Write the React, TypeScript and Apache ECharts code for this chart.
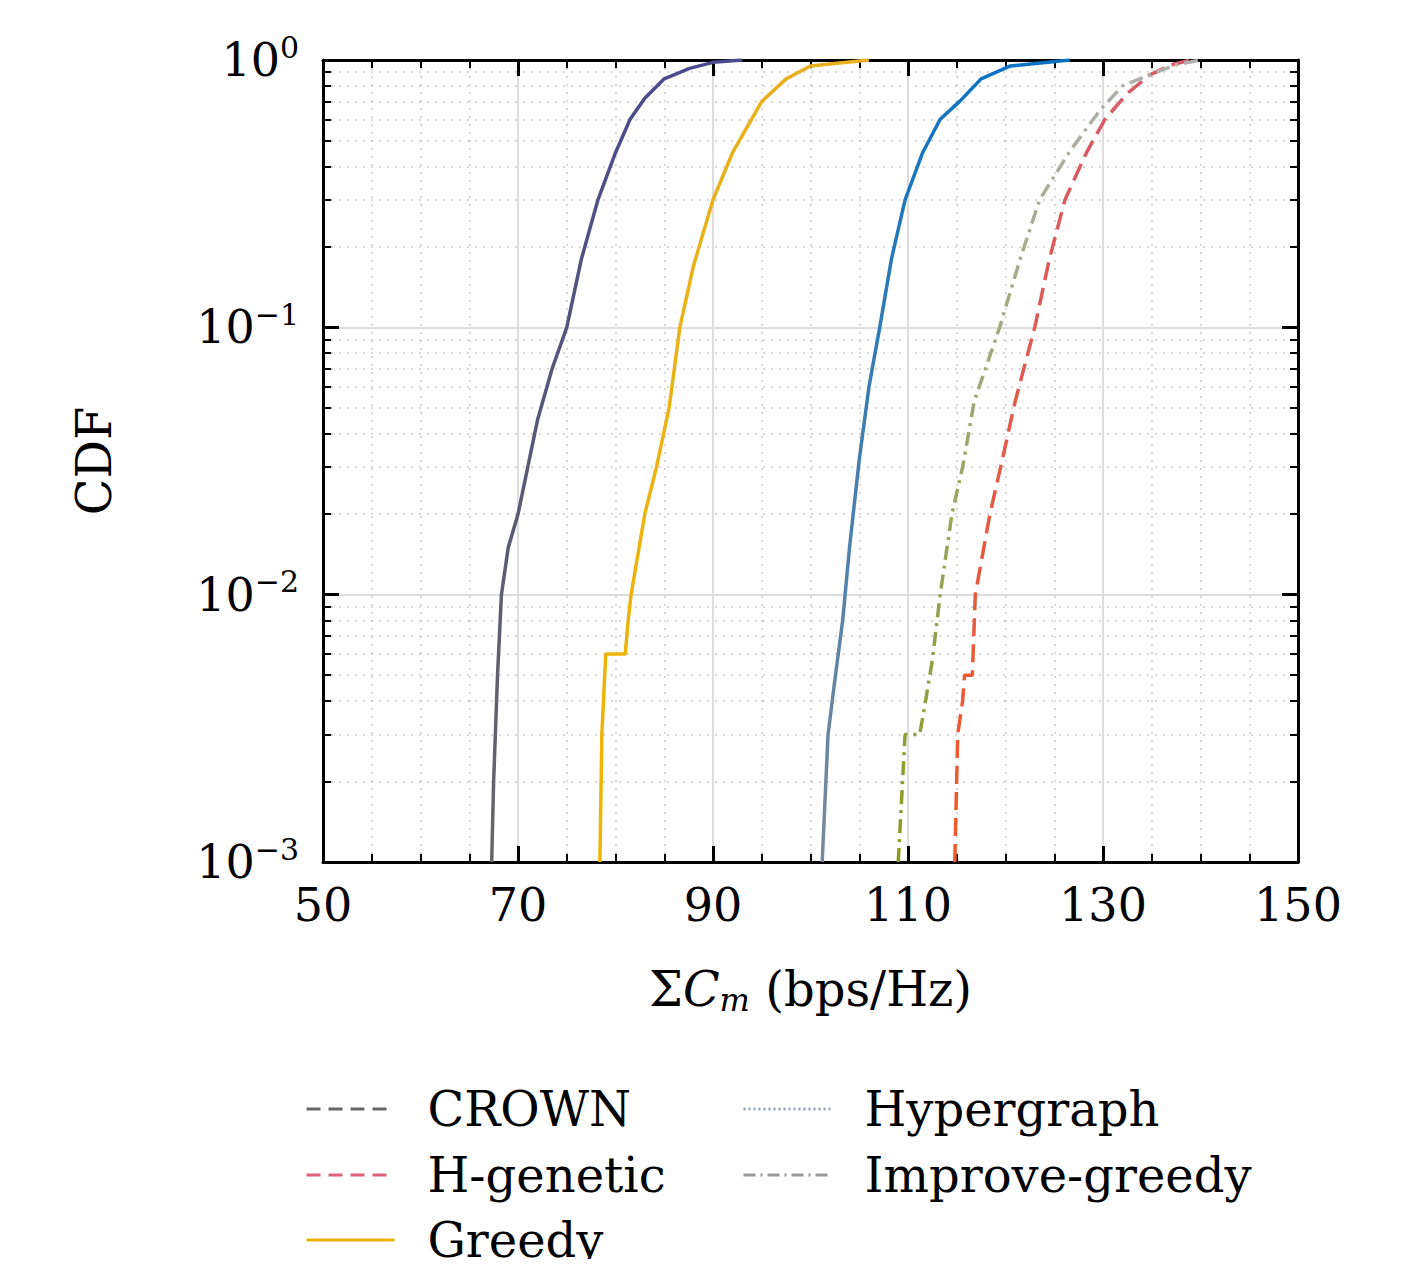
import React, { useEffect, useRef } from 'react';
import * as echarts from 'echarts';

const seriesNames = ['CROWN', 'H-genetic', 'Greedy', 'Hypergraph', 'Improve-greedy'];

const crown = [[67.3,0.001],[67.5,0.002],[67.9,0.005],[68.3,0.01],[69,0.015],[70,0.02],[71,0.03],[72,0.045],[73.5,0.07],[75,0.1],[76.5,0.18],[78.2,0.3],[80,0.45],[81.5,0.6],[83,0.72],[85,0.85],[87.6,0.93],[90,0.98],[93,1]];
const hGenetic = [[114.8,0.001],[115.1,0.003],[115.6,0.004],[115.8,0.005],[116.6,0.005],[116.9,0.01],[118.4,0.02],[119.5,0.03],[121,0.053],[123,0.1],[124.5,0.18],[126.1,0.3],[128.3,0.45],[130.2,0.6],[132.5,0.75],[134.8,0.88],[137,0.96],[139,1]];
const greedy = [[78.4,0.001],[78.6,0.003],[79,0.006],[81,0.006],[81.3,0.008],[81.6,0.01],[83,0.02],[84.2,0.03],[85.5,0.05],[86.6,0.1],[88,0.17],[90,0.3],[92,0.45],[95,0.7],[97.5,0.85],[100,0.95],[106,1]];
const hypergraph = [[101.2,0.001],[101.8,0.003],[102.5,0.0048],[103.3,0.008],[104,0.015],[105,0.032],[106,0.06],[107.1,0.1],[108.3,0.18],[109.7,0.3],[111.5,0.45],[113.3,0.6],[115.3,0.7],[117.5,0.85],[120.5,0.95],[126.6,1]];
const improveGreedy = [[109,0.001],[109.7,0.003],[111.2,0.003],[111.8,0.004],[112.5,0.0057],[113.3,0.01],[114.5,0.02],[115.6,0.03],[116.8,0.053],[119.4,0.1],[121.5,0.18],[123.5,0.3],[126.5,0.45],[129.7,0.65],[132,0.8],[134.8,0.88],[137.5,0.96],[140,1]];

const xTicks = [50, 70, 90, 110, 130, 150];
const yTickLabels: Record<string, string> = { '0.001': '10{s|−3}', '0.01': '10{s|−2}', '0.1': '10{s|−1}', '1': '10{s|0}' };

const FONT = 'DejaVu Serif';

const grad = (bottom: string, top: string) =>
  new echarts.graphic.LinearGradient(0, 1, 0, 0, [{ offset: 0, color: bottom }, { offset: 1, color: top }]);

// legend: name, left, top, colour, dash
const legendItems: [string, number, number, string, any][] = [
  ['CROWN', 297, 1077, '#666', [14, 8]],
  ['H-genetic', 297, 1143, '#e0607a', [14, 8]],
  ['Greedy', 297, 1208, '#e9b300', 'solid'],
  ['Hypergraph', 734, 1077, '#8aa0b8', [2, 3]],
  ['Improve-greedy', 734, 1143, '#999', [12, 5, 2, 5]],
];

const App: React.FC = () => {
  const chartRef = useRef<HTMLDivElement>(null);

  useEffect(() => {
    if (!chartRef.current) return;
    const chart = echarts.init(chartRef.current, undefined, { renderer: 'svg' });
    const mk = (name: string, data: number[][], color: any, plain: string, type: any) => ({
      name, type: 'line', data, showSymbol: false, symbol: 'none',
      itemStyle: { color: plain },
      lineStyle: { color, width: 3.5, type },
    });
    const tickStyle = { show: true, inside: true, length: 16, lineStyle: { color: '#000', width: 3 } };
    const minorTick = { show: true, splitNumber: 4, length: 8, lineStyle: { color: '#000', width: 2 } };
    const ylab = {
      fontFamily: FONT, fontSize: 46, color: '#000', margin: 24,
      formatter: (v: number) => yTickLabels[String(v)] ?? '',
      rich: { s: { fontFamily: FONT, fontSize: 30, verticalAlign: 'top', padding: [0, 0, 26, 0] } },
    };
    const option = {
      animation: false,
      grid: { left: 315, top: 52, width: 975, height: 802 },
      xAxis: [
        {
          type: 'value', min: 50, max: 150, interval: 20,
          axisLine: { lineStyle: { color: '#000', width: 3 } },
          axisTick: tickStyle, minorTick,
          axisLabel: { fontFamily: FONT, fontSize: 46, color: '#000', margin: 20, formatter: (v: number) => xTicks.includes(v) ? String(v) : '' },
          splitLine: { show: true, lineStyle: { color: '#ddd', width: 2 } },
          minorSplitLine: { show: true, lineStyle: { color: '#ccc', width: 1.5, type: [2, 6] } },
          name: 'Σ{i|C}{sub|m} (bps/Hz)', nameLocation: 'middle', nameGap: 100,
          nameTextStyle: {
            fontFamily: FONT, fontSize: 48, color: '#000',
            rich: { i: { fontFamily: FONT, fontSize: 48, fontStyle: 'italic' }, sub: { fontFamily: FONT, fontSize: 32, fontStyle: 'italic', verticalAlign: 'bottom', padding: [22, 0, 0, 0] } },
          },
        },
        {
          type: 'value', min: 50, max: 150, interval: 20, position: 'top',
          axisLine: { lineStyle: { color: '#000', width: 3 } },
          axisTick: tickStyle, minorTick, axisLabel: { show: false }, splitLine: { show: false },
        },
      ],
      yAxis: [
        {
          type: 'log', min: 0.001, max: 1, logBase: 10,
          axisLine: { show: true, lineStyle: { color: '#000', width: 3 } },
          axisTick: tickStyle,
          minorTick: { show: true, splitNumber: 9, length: 8, lineStyle: { color: '#000', width: 2 } },
          axisLabel: ylab,
          splitLine: { show: true, lineStyle: { color: '#ddd', width: 2 } },
          minorSplitLine: { show: true, lineStyle: { color: '#ccc', width: 1.5, type: [2, 6] } },
          name: 'CDF', nameLocation: 'middle', nameGap: 205, nameRotate: 90,
          nameTextStyle: { fontFamily: FONT, fontSize: 48, color: '#000' },
        },
        {
          type: 'log', min: 0.001, max: 1, logBase: 10, position: 'right',
          axisLine: { show: true, lineStyle: { color: '#000', width: 3 } },
          axisTick: tickStyle,
          minorTick: { show: true, splitNumber: 9, length: 8, lineStyle: { color: '#000', width: 2 } },
          axisLabel: { show: false }, splitLine: { show: false },
        },
      ],
      legend: legendItems.map(([name, left, top, color, type]) => ({
        left, top, itemWidth: 88, itemHeight: 20, padding: 0,
        textStyle: { fontFamily: FONT, fontSize: 48, color: '#000', padding: [0, 0, 0, 28] },
        data: [{ name, itemStyle: { opacity: 0 }, lineStyle: { color, type, width: 3 } }],
      })),
      series: [
        mk(seriesNames[0], crown, grad('#666', '#4b4a8c'), '#555', 'solid'),
        mk(seriesNames[1], hGenetic, grad('#f05a28', '#d65a6a'), '#e0607a', [18, 8]),
        mk(seriesNames[2], greedy, grad('#f0b400', '#e8b020'), '#e9b300', 'solid'),
        mk(seriesNames[3], hypergraph, grad('#7a8a9a', '#0a72c4'), '#8aa0b8', 'solid'),
        mk(seriesNames[4], improveGreedy, grad('#8a9a20', '#b0b0b0'), '#999', [14, 6, 3, 6]),
      ],
    };
    chart.setOption(option);
    return () => chart.dispose();
  }, []);

  return <div ref={chartRef} style={{ width: 1401, height: 1251 }} />;
};

export default App;
